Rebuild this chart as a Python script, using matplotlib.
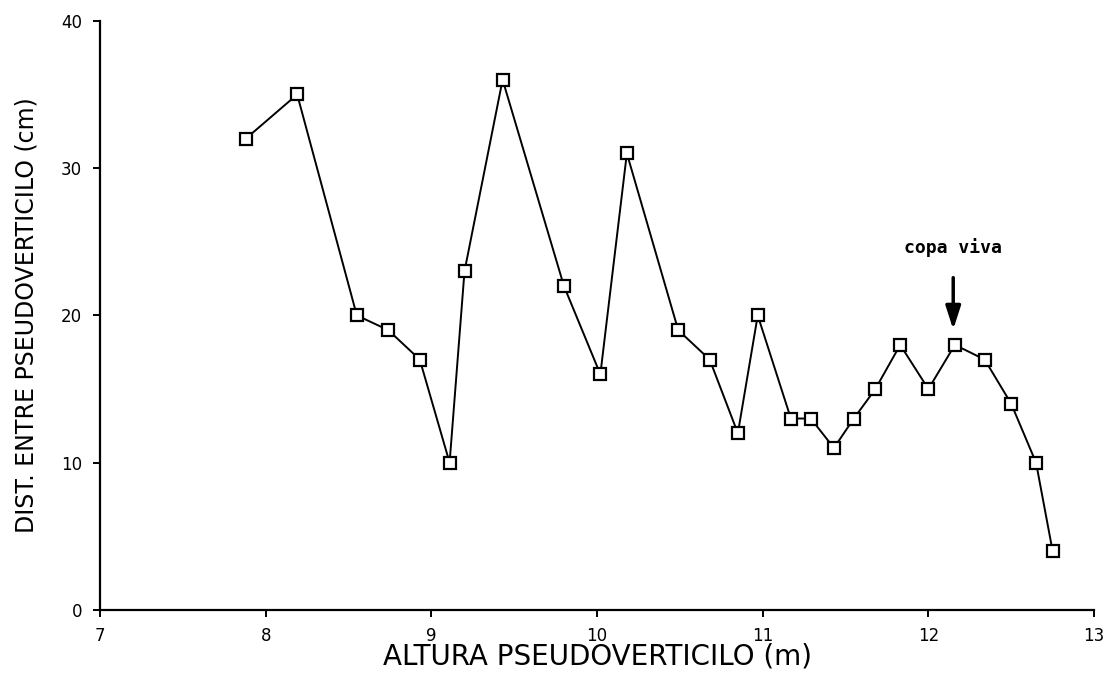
import numpy as np
import matplotlib
matplotlib.use('Agg')
import matplotlib.pyplot as plt

# altura del pseudoverticilo (m) y distancia al siguiente (cm)
altura = [7.88, 8.19, 8.55, 8.74, 8.93, 9.11, 9.20, 9.43, 9.80, 10.02,
          10.18, 10.49, 10.68, 10.85, 10.97, 11.17, 11.29, 11.43, 11.55,
          11.68, 11.83, 12.00, 12.16, 12.34, 12.50, 12.65, 12.75]
distancia = [32, 35, 20, 19, 17, 10, 23, 36, 22, 16,
             31, 19, 17, 12, 20, 13, 13, 11, 13,
             15, 18, 15, 18, 17, 14, 10, 4]

x_ticks = [7, 8, 9, 10, 11, 12, 13]
y_ticks = [0, 10, 20, 30, 40]

copa_viva = 12.15   # inicio de la copa viva
copa_label = 'copa viva'

plt.rcParams['font.family'] = ['DejaVu Sans']

fig = plt.figure(figsize=(11.19, 6.87), dpi=100)
ax = fig.add_axes([0.0894, 0.1121, 0.8883, 0.8576])

ax.plot(altura, distancia, color='black', linewidth=1.4,
        marker='s', markersize=8, markerfacecolor='white',
        markeredgecolor='black', markeredgewidth=1.6)

ax.set_xlim(7, 13)
ax.set_ylim(0, 40)
ax.set_xticks(x_ticks)
ax.set_yticks(y_ticks)

for side in ['top', 'right']:
    ax.spines[side].set_visible(False)
for side in ['left', 'bottom']:
    ax.spines[side].set_linewidth(1.6)

ax.tick_params(axis='both', direction='out', length=5, width=1.4,
               labelsize=12, colors='black')
ax.tick_params(axis='x', pad=7)
ax.tick_params(axis='y', pad=8)

# titulos de los ejes, centrados sobre cada eje
ax.set_xlabel('ALTURA PSEUDOVERTICILO (m)', fontsize=20)
ax.xaxis.set_label_coords(0.5, (610 - 657) / 589.2)
ax.xaxis.label.set_va('center')
ax.set_ylabel('DIST. ENTRE PSEUDOVERTICILO (cm)', fontsize=17)
ax.yaxis.set_label_coords((26 - 100) / 994.0, 0.5)
ax.yaxis.label.set_va('center')

# flecha que marca la copa viva
ax.text(copa_viva, 24.6, copa_label, ha='center', va='center',
        fontsize=13, family='DejaVu Sans Mono', fontweight='bold')
ax.annotate('', xy=(copa_viva, 18.85), xytext=(copa_viva, 22.75),
            arrowprops=dict(arrowstyle='-|>,head_length=1.4,head_width=0.45',
                            color='black', linewidth=2.5))

fig.savefig('out.png', dpi=100, facecolor='white')
